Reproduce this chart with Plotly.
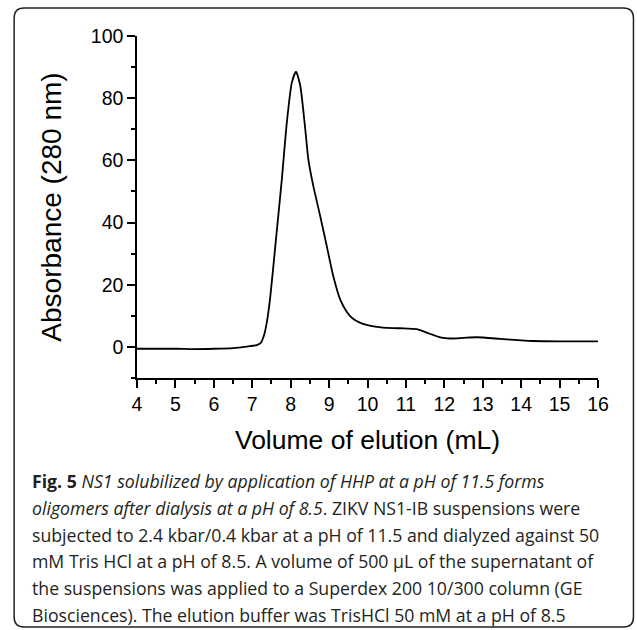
import plotly.graph_objects as go

# Data
volume_ml = [4.0, 4.5, 5.0, 5.5, 6.0, 6.5, 6.86, 7.12, 7.22, 7.30, 7.38, 7.47, 7.60, 7.77,
             7.90, 8.03, 8.14, 8.25, 8.38, 8.46, 8.59, 8.77, 8.94, 9.11, 9.29, 9.45,
             9.60, 9.80, 10.0, 10.2, 10.4, 10.85, 11.28, 11.54, 11.89, 12.15, 12.5,
             12.84, 13.45, 14.0, 14.31, 15.0, 16.0]
absorbance = [-0.6, -0.6, -0.6, -0.7, -0.6, -0.4, 0.1, 0.6, 1.3, 3.5, 8.0, 16.2, 32.4, 53.9,
              72.2, 85.0, 88.5, 84.0, 70.0, 60.3, 51.7, 42.0, 32.4, 22.7, 15.2, 11.5,
              9.3, 7.8, 7.0, 6.5, 6.2, 6.0, 5.7, 4.6, 3.1, 2.7, 2.9,
              3.1, 2.6, 2.1, 1.9, 1.8, 1.8]

x_ticks = [4, 5, 6, 7, 8, 9, 10, 11, 12, 13, 14, 15, 16]
y_ticks = [0, 20, 40, 60, 80, 100]

x_title = "Volume of elution (mL)"
y_title = "Absorbance (280 nm)"

caption_lines = [
    "<b>Fig. 5</b> <i>NS1 solubilized by application of HHP at a pH of 11.5 forms</i>",
    "<i>oligomers after dialysis at a pH of 8.5</i>. ZIKV NS1-IB suspensions were",
    "subjected to 2.4 kbar/0.4 kbar at a pH of 11.5 and dialyzed against 50",
    "mM Tris HCl at a pH of 8.5. A volume of 500 µL of the supernatant of",
    "the suspensions was applied to a Superdex 200 10/300 column (GE",
    "Biosciences). The elution buffer was TrisHCl 50 mM at a pH of 8.5",
]

W, H = 637, 630
L, R, T, B = 136.5, 598.0, 36.0, 378.0
pw, ph = R - L, B - T


def px(xp):
    return (xp - L) / pw


def py(yp):
    return (B - yp) / ph


fig = go.Figure()
fig.add_trace(go.Scatter(
    x=volume_ml, y=absorbance, mode="lines",
    line=dict(color="black", width=1.8, shape="spline", smoothing=0.6),
    showlegend=False, hoverinfo="skip",
))

axis_font = dict(family="Liberation Sans, Arial, sans-serif", size=19.5, color="black")

fig.update_xaxes(
    range=[4, 16], tickvals=x_ticks, ticks="outside", ticklen=8, tickwidth=1.5,
    tickcolor="black", showline=True, linecolor="black", linewidth=1.5,
    showgrid=False, zeroline=False, tickfont=axis_font,
    minor=dict(dtick=0.5, tick0=4, ticks="outside", ticklen=4.5, tickwidth=1.5, tickcolor="black", showgrid=False),
    title=dict(text=x_title, font=dict(family="Liberation Sans, Arial, sans-serif", size=26.5, color="black"), standoff=16),
)
fig.update_yaxes(
    range=[-10, 100], tickvals=y_ticks, ticks="outside", ticklen=8, tickwidth=1.5,
    tickcolor="black", showline=True, linecolor="black", linewidth=1.5,
    showgrid=False, zeroline=False, tickfont=axis_font,
    minor=dict(dtick=10, tick0=0, ticks="outside", ticklen=4.5, tickwidth=1.5, tickcolor="black", showgrid=False),
    title=dict(text=y_title, font=dict(family="Liberation Sans, Arial, sans-serif", size=28, color="black"), standoff=21),
)

# Rounded border around figure + caption
x0, x1, y0, y1, r = 13.5, 633.5, 8.0, 627.0, 10.0
path = (
    f"M {px(x0 + r)},{py(y0)} L {px(x1 - r)},{py(y0)} "
    f"Q {px(x1)},{py(y0)} {px(x1)},{py(y0 + r)} "
    f"L {px(x1)},{py(y1 - r)} Q {px(x1)},{py(y1)} {px(x1 - r)},{py(y1)} "
    f"L {px(x0 + r)},{py(y1)} Q {px(x0)},{py(y1)} {px(x0)},{py(y1 - r)} "
    f"L {px(x0)},{py(y0 + r)} Q {px(x0)},{py(y0)} {px(x0 + r)},{py(y0)} Z"
)
fig.add_shape(type="path", path=path, xref="paper", yref="paper",
              line=dict(color="#222222", width=1.5), layer="above")

line_y = [481, 508, 534.5, 561, 588, 614.5]
for txt, yy in zip(caption_lines, line_y):
    fig.add_annotation(
        text=txt, xref="paper", yref="paper", x=px(29), y=py(yy),
        xanchor="left", yanchor="middle", showarrow=False,
        font=dict(family="Open Sans, sans-serif", size=17.7, color="#231f20"),
    )

fig.update_layout(
    width=W, height=H, autosize=False,
    margin=dict(l=L, r=W - R, t=T, b=H - B, pad=0),
    paper_bgcolor="white", plot_bgcolor="white",
)

fig.write_html("out.html")
